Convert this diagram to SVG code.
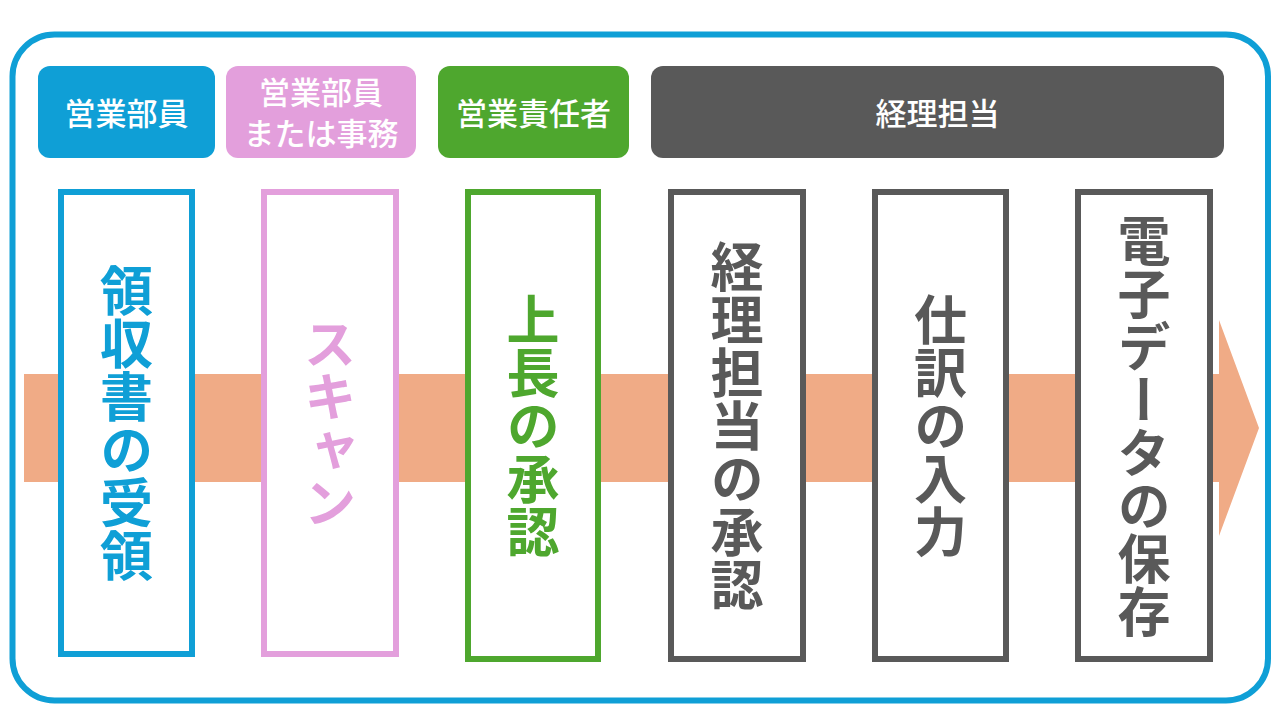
<svg xmlns="http://www.w3.org/2000/svg" width="1280" height="720" viewBox="0 0 1280 720">
<style>
.hdr{font-family:"Noto Sans CJK JP","Noto Sans CJK SC",sans-serif;font-size:31px;font-weight:500;fill:#fff;text-anchor:middle;dominant-baseline:central}
.step{fill:#fff;stroke-width:6}
.vt{font-family:"Noto Sans CJK JP","Noto Sans CJK SC",sans-serif;font-size:53px;font-weight:700;writing-mode:vertical-rl;text-anchor:middle}
</style>
<rect width="1280" height="720" fill="#fff"/>
<rect id="frame" x="12.5" y="34.5" width="1255.5" height="666" rx="42" fill="none" stroke="#0f9fd6" stroke-width="6"/>
<g id="connectors">
  <polygon points="24,374 1219,374 1219,320 1259,428 1219,536 1219,482 24,482" fill="#f0ab86"/>
</g>
<g id="hdr-sales">
  <rect x="38" y="66" width="177" height="92" rx="12" fill="#0f9fd6"/>
  <text class="hdr" x="126.5" y="111">営業部員</text>
</g>
<g id="hdr-sales-office">
  <rect x="226" y="66" width="190" height="92" rx="12" fill="#e39fdc"/>
  <text class="hdr" x="321" y="90">営業部員</text>
  <text class="hdr" x="321" y="131">または事務</text>
</g>
<g id="hdr-manager">
  <rect x="438" y="66" width="191" height="92" rx="12" fill="#4ea72e"/>
  <text class="hdr" x="533.5" y="111">営業責任者</text>
</g>
<g id="hdr-accounting">
  <rect x="651" y="66" width="573" height="92" rx="12" fill="#595959"/>
  <text class="hdr" x="937.5" y="111">経理担当</text>
</g>
<g id="step1">
  <rect class="step" x="61" y="192" width="131" height="462" stroke="#0f9fd6"/>
  <text class="vt" x="126.5" y="423" fill="#0f9fd6">領収書の受領</text>
</g>
<g id="step2">
  <rect class="step" x="264" y="192" width="132" height="462" stroke="#e39fdc"/>
  <text class="vt" x="330" y="423" fill="#e39fdc">スキャン</text>
</g>
<g id="step3">
  <rect class="step" x="468" y="192" width="130" height="467" stroke="#4ea72e"/>
  <text class="vt" x="533" y="426" fill="#4ea72e">上長の承認</text>
</g>
<g id="step4">
  <rect class="step" x="671" y="192" width="132" height="467" stroke="#595959"/>
  <text class="vt" x="737" y="426" fill="#595959">経理担当の承認</text>
</g>
<g id="step5">
  <rect class="step" x="875" y="192" width="131" height="467" stroke="#595959"/>
  <text class="vt" x="940.5" y="426" fill="#595959">仕訳の入力</text>
</g>
<g id="step6">
  <rect class="step" x="1078" y="192" width="132" height="467" stroke="#595959"/>
  <text class="vt" x="1144" y="426" fill="#595959">電子データの保存</text>
</g>
</svg>
